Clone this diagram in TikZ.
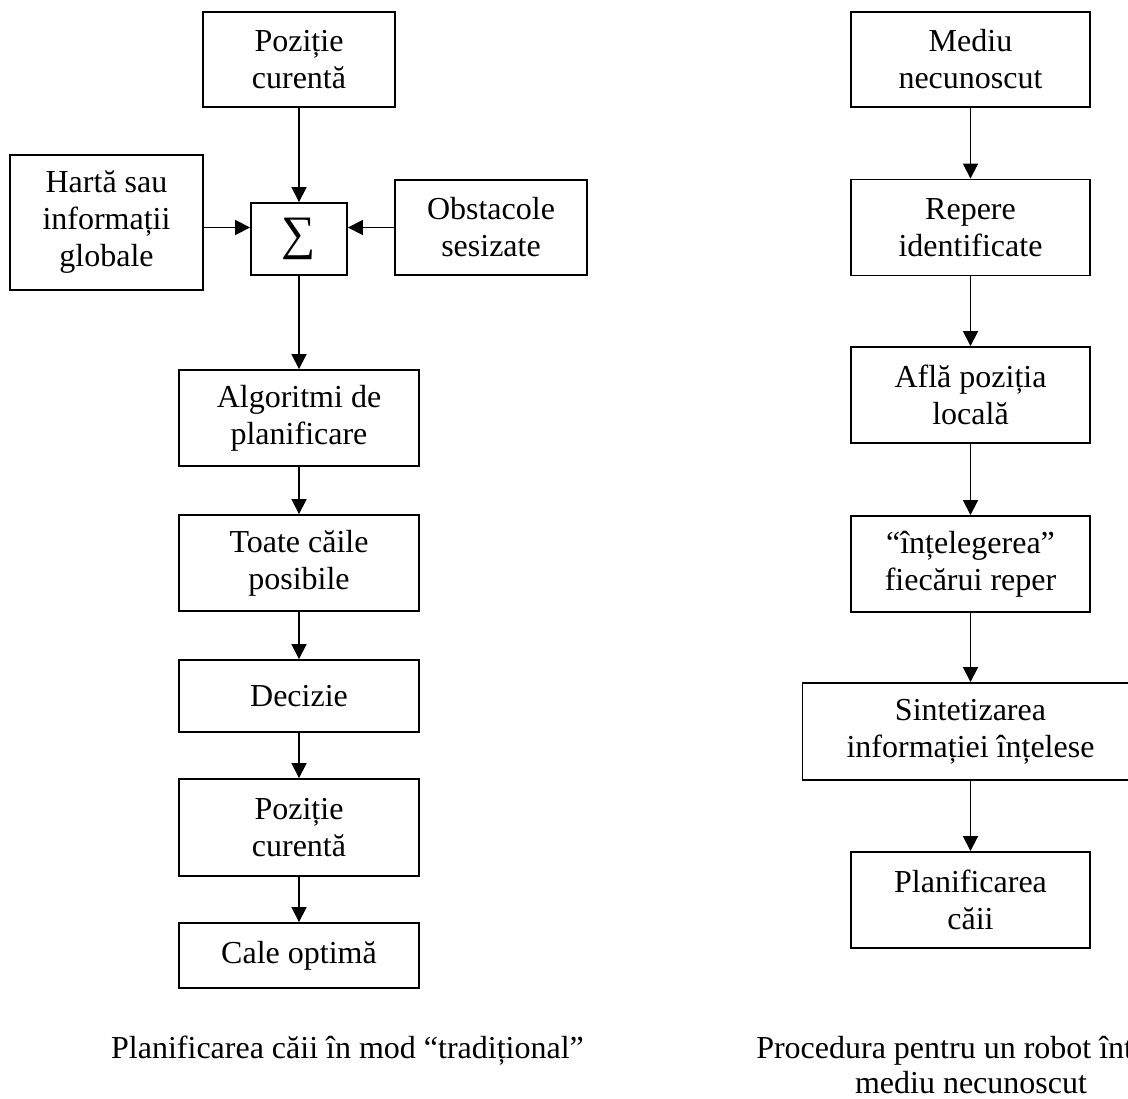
\documentclass[tikz,border=0pt]{standalone}
\usepackage{fontspec}
\setmainfont{Liberation Serif}
\usetikzlibrary{arrows.meta}
\tikzset{
  box/.style={draw, line width=1.9pt, align=center, inner sep=0pt,
    font=\fontsize{32}{37}\selectfont},
  arr/.style={line width=1.8pt, -{Triangle[length=15pt,width=15pt]}},
  captext/.style={anchor=base, inner sep=0pt, font=\fontsize{32}{37}\selectfont}
}
\begin{document}
\begin{tikzpicture}[x=1pt,y=-1pt]
\useasboundingbox (0,0) rectangle (1128,1099);
\clip (0,0) rectangle (1128,1099);
\fill[white] (0,0) rectangle (1128,1099);
% left column
\node[box, minimum width=192pt, minimum height=95pt] (p1) at (299,59.5) {Poziție\\curentă};
\node[box, minimum width=193pt, minimum height=135pt] (harta) at (106.5,222.5) {Hartă sau\\informații\\globale};
\node[box, minimum width=96pt, minimum height=72pt, font=\fontsize{48}{50}\selectfont] (sig) at (299,239) {∑};
\node[box, minimum width=192pt, minimum height=95pt] (obst) at (491,227.5) {Obstacole\\sesizate};
\node[box, minimum width=240pt, minimum height=96pt] (alg) at (299,418) {Algoritmi de\\planificare};
\node[box, minimum width=240pt, minimum height=96pt] (toate) at (299,563) {Toate căile\\posibile};
\node[box, minimum width=240pt, minimum height=72pt] (dec) at (299,696) {Decizie};
\node[box, minimum width=240pt, minimum height=97pt] (p2) at (299,827.5) {Poziție\\curentă};
\node[box, minimum width=240pt, minimum height=65pt] (cale) at (299,955.5) {Cale optimă};
\node[captext] (capl) at (347.5,1058) {Planificarea căii în mod “tradițional”};
\draw[arr] (p1) -- (sig);
\draw[arr] (harta.east |- obst.west) -- (sig.west |- obst.west);
\draw[arr] (obst.west) -- (sig.east |- obst.west);
\draw[arr] (sig) -- (alg);
\draw[arr] (alg) -- (toate);
\draw[arr] (toate) -- (dec);
\draw[arr] (dec) -- (p2);
\draw[arr] (p2) -- (cale);
% right column
\node[box, minimum width=239pt, minimum height=95pt] (mediu) at (970.5,59.5) {Mediu\\necunoscut};
\node[box, minimum width=239pt, minimum height=96pt] (rep) at (970.5,227.5) {Repere\\identificate};
\node[box, minimum width=239pt, minimum height=96pt] (afla) at (970.5,395) {Află poziția\\locală};
\node[box, minimum width=239pt, minimum height=96pt] (intel) at (970.5,564) {“înțelegerea”\\fiecărui reper};
\node[box, minimum width=336pt, minimum height=97pt] (sint) at (970.5,731.5) {Sintetizarea\\informației înțelese};
\node[box, minimum width=239pt, minimum height=96pt] (plan) at (970.5,900) {Planificarea\\căii};
\node[captext] (capr1) at (971,1058) {Procedura pentru un robot într-un};
\node[captext] (capr2) at (971,1093) {mediu necunoscut};
\draw[arr] (mediu) -- (rep);
\draw[arr] (rep) -- (afla);
\draw[arr] (afla) -- (intel);
\draw[arr] (intel) -- (sint);
\draw[arr] (sint) -- (plan);
\end{tikzpicture}
\end{document}
